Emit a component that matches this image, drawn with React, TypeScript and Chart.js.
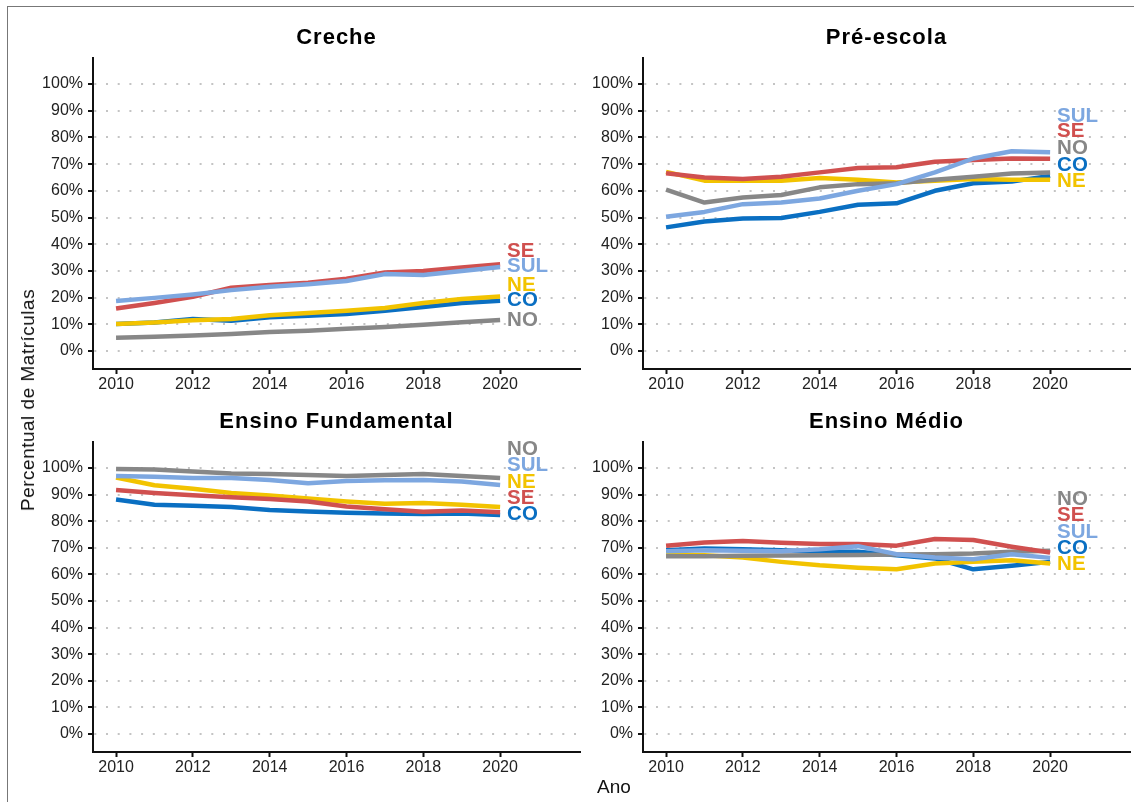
import React, { useEffect, useRef } from "react";
import { Chart, registerables } from "chart.js";

Chart.register(...registerables);

const FONT = "'Liberation Sans', Arial, Helvetica, sans-serif";

const years = [2010, 2011, 2012, 2013, 2014, 2015, 2016, 2017, 2018, 2019, 2020];
const xTicks = [2010, 2012, 2014, 2016, 2018, 2020];
const yTicks = [0, 10, 20, 30, 40, 50, 60, 70, 80, 90, 100];

// draw order: first entry ends up on top
const regions = ["SUL", "SE", "NO", "NE", "CO"];
const regionColors: Record<string, string> = {
  SUL: "#7DA7E0",
  SE: "#D0504F",
  NO: "#878787",
  NE: "#F2C300",
  CO: "#0A6FC2",
};

// Creche
const crecheSUL = [18.7, 19.9, 21.2, 22.8, 24.1, 25.0, 26.2, 28.8, 28.5, 30.0, 31.5];
const crecheSE = [15.9, 18.0, 20.3, 23.7, 24.7, 25.6, 27.1, 29.4, 30.0, 31.3, 32.5];
const crecheNO = [5.0, 5.3, 5.8, 6.4, 7.1, 7.6, 8.3, 9.0, 9.8, 10.8, 11.6];
const crecheNE = [10.1, 10.7, 11.5, 12.0, 13.4, 14.2, 15.1, 16.1, 18.0, 19.5, 20.4];
const crecheCO = [10.1, 10.7, 12.0, 11.3, 12.6, 13.2, 13.9, 15.1, 16.5, 18.0, 18.8];
const crecheLabelY = [31.6, 37.2, 11.6, 24.5, 18.9];

// Pré-escola
const preSUL = [50.3, 52.1, 55.0, 55.6, 57.1, 60.0, 62.5, 66.9, 72.1, 74.8, 74.4];
const preSE = [66.6, 65.0, 64.4, 65.3, 66.9, 68.5, 68.8, 70.9, 71.5, 72.1, 72.0];
const preNO = [60.4, 55.6, 57.5, 58.4, 61.3, 62.5, 62.8, 64.1, 65.3, 66.5, 66.9];
const preNE = [67.1, 63.8, 63.8, 63.8, 64.8, 64.1, 63.1, 63.8, 64.4, 64.1, 64.1];
const preCO = [46.3, 48.5, 49.6, 49.8, 52.1, 54.8, 55.3, 60.0, 62.8, 63.5, 65.6];
const preLabelY = [88.0, 82.1, 75.9, 63.4, 69.7];

// Ensino Fundamental
const efSUL = [97.0, 96.7, 96.2, 96.2, 95.5, 94.2, 95.1, 95.4, 95.5, 94.9, 93.6];
const efSE = [91.7, 90.6, 89.7, 89.0, 88.3, 87.4, 85.5, 84.5, 83.5, 84.0, 83.3];
const efNO = [99.6, 99.4, 98.7, 97.9, 97.7, 97.3, 97.0, 97.3, 97.7, 97.0, 96.2];
const efNE = [96.4, 93.5, 92.2, 90.6, 89.6, 88.5, 87.4, 86.5, 86.8, 86.2, 85.3];
const efCO = [88.1, 86.2, 85.8, 85.3, 84.2, 83.6, 83.2, 82.9, 82.7, 82.9, 82.3];
const efLabelY = [101.1, 88.6, 107.0, 94.6, 82.4];

// Ensino Médio
const emSUL = [68.7, 69.1, 68.9, 68.7, 69.4, 70.6, 67.6, 66.3, 65.7, 67.6, 66.2];
const emSE = [70.8, 72.0, 72.5, 71.9, 71.4, 71.4, 70.8, 73.3, 72.9, 70.4, 68.2];
const emNO = [66.8, 66.8, 67.0, 67.1, 67.2, 67.3, 67.5, 67.6, 67.8, 68.5, 68.9];
const emNE = [67.6, 67.2, 66.3, 64.7, 63.4, 62.5, 61.9, 64.1, 64.7, 65.3, 64.1];
const emCO = [69.1, 69.7, 69.4, 69.1, 68.5, 68.5, 67.2, 66.0, 61.9, 63.2, 64.7];
const emLabelY = [75.9, 82.0, 88.3, 63.6, 69.9];

type Panel = {
  title: string;
  series: number[][];
  labelY: number[];
  left: number;
  top: number;
  width: number;
  height: number;
  padRight: number;
};

const panels: Panel[] = [
  { title: "Creche", series: [crecheSUL, crecheSE, crecheNO, crecheNE, crecheCO], labelY: crecheLabelY, left: 30, top: 0, width: 560, height: 400, padRight: 10 },
  { title: "Pré-escola", series: [preSUL, preSE, preNO, preNE, preCO], labelY: preLabelY, left: 580, top: 0, width: 554, height: 400, padRight: 4 },
  { title: "Ensino Fundamental", series: [efSUL, efSE, efNO, efNE, efCO], labelY: efLabelY, left: 30, top: 384, width: 560, height: 399, padRight: 10 },
  { title: "Ensino Médio", series: [emSUL, emSE, emNO, emNE, emCO], labelY: emLabelY, left: 580, top: 384, width: 554, height: 399, padRight: 4 },
];

const annotPlugin = {
  id: "annot",
  afterDatasetsDraw(chart: any, _args: any, opts: any) {
    const { ctx, chartArea, scales } = chart;
    ctx.save();
    ctx.font = `bold 22px ${FONT}`;
    (ctx as any).letterSpacing = "1px";
    ctx.fillStyle = "#000";
    ctx.textAlign = "center";
    ctx.textBaseline = "middle";
    ctx.fillText(opts.title, (chartArea.left + chartArea.right) / 2, chartArea.top - 20);
    (ctx as any).letterSpacing = "0px";
    ctx.font = `bold 20.5px ${FONT}`;
    ctx.textAlign = "left";
    const lastX = years[years.length - 1];
    regions.forEach((r, i) => {
      ctx.fillStyle = regionColors[r];
      ctx.fillText(r, scales.x.getPixelForValue(lastX) + 7, scales.y.getPixelForValue(opts.labelY[i]));
    });
    ctx.restore();
  },
};

function PanelChart({ p }: { p: Panel }) {
  const ref = useRef<HTMLCanvasElement>(null);
  useEffect(() => {
    if (!ref.current) return;
    const chart = new Chart(ref.current, {
      type: "line",
      data: {
        datasets: regions.map((r, i) => ({
          label: r,
          data: years.map((y, j) => ({ x: y, y: p.series[i][j] })),
          borderColor: regionColors[r],
          backgroundColor: regionColors[r],
          borderWidth: 4.5,
          pointRadius: 0,
          tension: 0,
          fill: false,
          borderJoinStyle: "round" as const,
        })),
      },
      options: {
        animation: false,
        responsive: false,
        devicePixelRatio: 1,
        layout: { padding: { top: 58, right: p.padRight, bottom: 0, left: 0 } },
        plugins: {
          legend: { display: false },
          tooltip: { enabled: false },
          title: { display: false },
          annot: { title: p.title, labelY: p.labelY },
        } as any,
        scales: {
          x: {
            type: "linear",
            min: 2009.4,
            max: 2022.08,
            afterBuildTicks: (s: any) => {
              s.ticks = xTicks.map((v) => ({ value: v }));
            },
            afterFit: (s: any) => {
              s.height = 31;
            },
            ticks: {
              callback: (v: any) => String(v),
              color: "#222",
              font: { size: 16, family: FONT },
              padding: 1,
              maxRotation: 0,
              autoSkip: false,
            },
            grid: {
              drawOnChartArea: false,
              drawTicks: true,
              tickLength: 5,
              tickColor: "#111",
              tickWidth: 2,
            },
            border: { display: true, color: "#111", width: 2 },
          },
          y: {
            type: "linear",
            min: -6.74,
            max: 109.74,
            afterBuildTicks: (s: any) => {
              s.ticks = yTicks.map((v) => ({ value: v }));
            },
            afterFit: (s: any) => {
              s.width = 63;
            },
            ticks: {
              callback: (v: any) => `${v}%`,
              color: "#222",
              font: { size: 16, family: FONT },
              padding: 5,
              autoSkip: false,
            },
            grid: {
              drawOnChartArea: true,
              drawTicks: true,
              tickLength: 5,
              color: "#C4C4C4",
              lineWidth: 2,
              tickColor: "#111",
              tickWidth: 2,
              tickBorderDash: [],
            } as any,
            border: { display: true, color: "#111", width: 2, dash: [2, 9.7], dashOffset: -12 } as any,
          },
        },
      },
      plugins: [annotPlugin],
    } as any);
    return () => chart.destroy();
  }, [p]);
  return (
    <canvas
      ref={ref}
      width={p.width}
      height={p.height}
      style={{ position: "absolute", left: p.left, top: p.top, width: p.width, height: p.height }}
    />
  );
}

export default function App() {
  return (
    <div
      style={{
        position: "fixed",
        left: 0,
        top: 0,
        width: 1134,
        height: 802,
        background: "#fff",
        overflow: "hidden",
        fontFamily: FONT,
      }}
    >
      <div
        style={{
          position: "absolute",
          left: 7,
          top: 6,
          width: 1200,
          height: 900,
          borderTop: "1.5px solid #777",
          borderLeft: "1.5px solid #777",
        }}
      />
      {panels.map((p) => (
        <PanelChart key={p.title} p={p} />
      ))}
      <div
        style={{
          position: "absolute",
          left: 28,
          top: 400,
          transform: "translate(-50%, -50%) rotate(-90deg)",
          whiteSpace: "nowrap",
          fontSize: 19,
          letterSpacing: "0.5px",
          color: "#111",
        }}
      >
        Percentual de Matrículas
      </div>
      <div
        style={{
          position: "absolute",
          left: 614,
          top: 787,
          transform: "translate(-50%, -50%)",
          whiteSpace: "nowrap",
          fontSize: 19,
          color: "#111",
        }}
      >
        Ano
      </div>
    </div>
  );
}
